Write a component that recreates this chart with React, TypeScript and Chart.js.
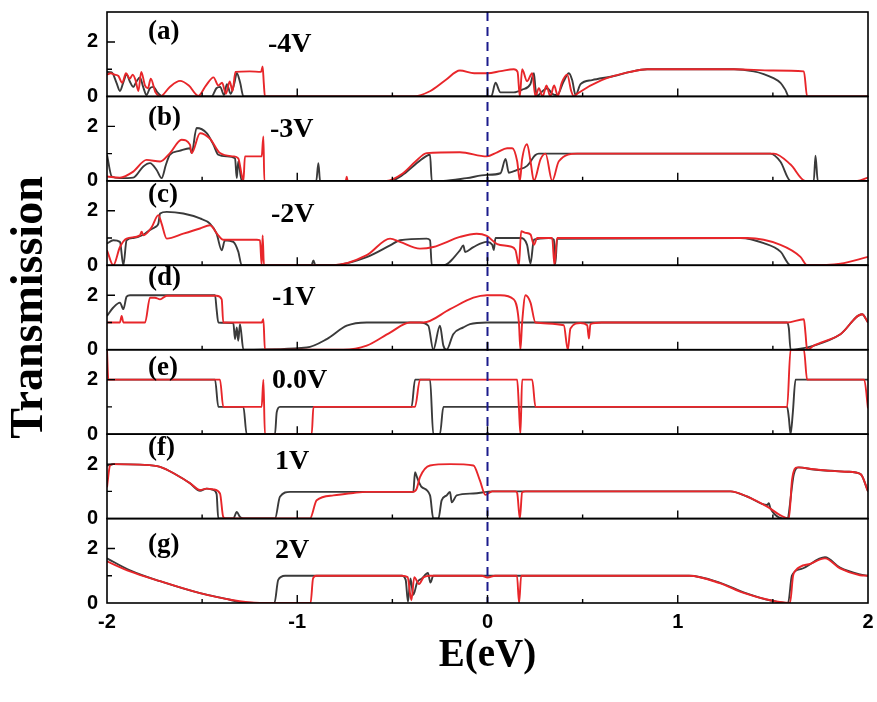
import React, { useEffect, useRef } from "react";
import { Chart, registerables } from "chart.js";

Chart.register(...registerables);

type Pt = [number, number];

// ---- axis / label data ----
const xTickValues = [-2, -1, 0, 1, 2];
const xInnerTicks = [-1.5, -1, -0.5, 0, 0.5, 1, 1.5];
const yLabelledTicks = [0, 2];
const yInnerTicks = [1, 2];
const yMax = 3.1;
const panelLetters = ["(a)", "(b)", "(c)", "(d)", "(e)", "(f)", "(g)"];
const biasLabels = ["-4V", "-3V", "-2V", "-1V", "0.0V", "1V", "2V"];
const letterX = -1.785;
const letterY = [2.36, 2.29, 2.59, 2.62, 2.44, 2.59, 2.14];
const biasX = [-1.154, -1.143, -1.138, -1.133, -1.133, -1.117, -1.117];
const biasY = [1.89, 1.89, 1.85, 1.92, 1.96, 2.07, 1.92];

// ---- series (E in eV, transmission) ----
const aBlack: Pt[] = [[-2.0,0.9],[-1.975,0.88],[-1.95,0.5],[-1.932,0.2],[-1.915,0.5],[-1.897,0.8],[-1.88,0.55],[-1.862,0.35],[-1.845,0.55],[-1.827,0.7],[-1.81,0.35],[-1.792,0.05],[-1.775,0.3],[-1.756,0.35],[-1.735,0.15],[-1.715,0.02],[-1.7,0],[-1.45,0],[-1.425,0.3],[-1.405,0.35],[-1.385,0.05],[-1.37,0.45],[-1.35,0.1],[-1.33,0.5],[-1.318,0.86],[-1.3,0.5],[-1.283,0],[0.02,0],[0.042,0.5],[0.068,0.15],[0.138,0.15],[0.182,0.25],[0.225,0.45],[0.244,0.85],[0.252,0.3],[0.261,0.02],[0.29,0.2],[0.314,0.3],[0.34,0.1],[0.366,0.05],[0.4,0.55],[0.428,0.85],[0.445,0.6],[0.463,0.05],[0.489,0.45],[0.55,0.6],[0.664,0.75],[0.75,0.9],[0.839,1.0],[1.295,1.0],[1.4,0.92],[1.452,0.82],[1.5,0.68],[1.54,0.5],[1.565,0.25],[1.584,0],[2.0,0]];
const aRed: Pt[] = [[-2.0,0.8],[-1.98,0.85],[-1.96,0.8],[-1.94,0.75],[-1.92,0.5],[-1.9,0.85],[-1.88,0.65],[-1.865,0.8],[-1.85,0.6],[-1.835,0.2],[-1.82,0.9],[-1.8,0.4],[-1.785,0.3],[-1.77,0.65],[-1.745,0.15],[-1.72,0],[-1.67,0.35],[-1.616,0.57],[-1.57,0.4],[-1.52,0.02],[-1.48,0.4],[-1.44,0.7],[-1.415,0.4],[-1.395,0.5],[-1.375,0.1],[-1.355,0.55],[-1.34,0.2],[-1.325,0.9],[-1.25,0.92],[-1.19,0.9],[-1.182,1.1],[-1.176,0.5],[-1.17,0],[-0.39,0],[-0.3,0.2],[-0.22,0.6],[-0.145,0.95],[-0.07,0.85],[0.0,0.85],[0.07,0.93],[0.138,1.0],[0.158,0.9],[0.17,0],[0.182,1.0],[0.208,0.56],[0.235,0.85],[0.252,0],[0.27,0.3],[0.29,0],[0.31,0.4],[0.33,0],[0.35,0.4],[0.37,0.02],[0.39,0.5],[0.419,0.8],[0.44,0.2],[0.454,0],[0.471,0.1],[0.6,0.6],[0.75,0.9],[0.839,1.0],[1.3,1.0],[1.5,0.95],[1.663,0.92],[1.68,0],[2.0,0]];

const bBlack: Pt[] = [[-2.0,0.96],[-1.975,0.16],[-1.932,0.1],[-1.862,0.12],[-1.809,0.53],[-1.774,0.65],[-1.739,0.4],[-1.713,0.1],[-1.69,0.6],[-1.669,0.96],[-1.62,1.1],[-1.564,1.2],[-1.555,1.02],[-1.529,1.94],[-1.476,1.75],[-1.441,1.33],[-1.415,0.96],[-1.371,0.9],[-1.327,0.83],[-1.318,0.1],[-1.31,0.71],[-1.292,0],[-0.9,0],[-0.889,0.65],[-0.88,0],[-0.512,0],[-0.45,0.2],[-0.38,0.6],[-0.32,0.92],[-0.302,0.96],[-0.293,0],[-0.232,0],[-0.11,0.1],[-0.004,0.22],[0.068,0.28],[0.095,0.8],[0.112,0.3],[0.156,0.4],[0.208,0.55],[0.252,0.95],[0.27,1.0],[1.487,1.0],[1.54,0.7],[1.593,0],[1.715,0],[1.724,0.92],[1.736,0],[2.0,0]];
const bRed: Pt[] = [[-2.0,0.16],[-1.932,0.12],[-1.862,0.34],[-1.792,0.77],[-1.721,0.71],[-1.669,1.02],[-1.608,1.51],[-1.564,1.33],[-1.555,1.02],[-1.511,1.75],[-1.459,1.55],[-1.406,1.02],[-1.336,0.9],[-1.31,0.83],[-1.292,0.22],[-1.283,0],[-1.275,0.9],[-1.187,0.9],[-1.178,1.63],[-1.173,0],[-0.745,0],[-0.74,0.15],[-0.735,0],[-0.53,0],[-0.45,0.25],[-0.38,0.7],[-0.32,1.02],[-0.145,1.05],[-0.004,0.9],[0.051,1.05],[0.103,1.2],[0.13,1.2],[0.156,0.72],[0.17,0],[0.182,0.8],[0.208,1.35],[0.226,0.72],[0.244,0],[0.279,0.8],[0.305,1.0],[0.34,0],[0.375,0.72],[0.471,1.0],[1.505,1.0],[1.593,0.6],[1.671,0],[1.943,0],[2.0,0.12]];

const cBlack: Pt[] = [[-2.0,0.8],[-1.967,0.92],[-1.932,0.86],[-1.914,0],[-1.897,0.92],[-1.862,1.0],[-1.809,1.12],[-1.774,1.3],[-1.748,1.4],[-1.73,1.53],[-1.721,1.9],[-1.686,1.96],[-1.599,1.9],[-1.511,1.72],[-1.459,1.53],[-1.424,1.16],[-1.397,0.55],[-1.38,0.92],[-1.336,0.86],[-1.31,0.5],[-1.292,0],[-0.925,0],[-0.915,0.18],[-0.905,0],[-0.81,0],[-0.635,0.3],[-0.512,0.73],[-0.46,0.92],[-0.32,0.98],[-0.302,0.92],[-0.293,0],[-0.232,0],[-0.145,0.55],[-0.127,0.73],[-0.118,0.49],[-0.074,0.67],[-0.004,0.86],[0.025,0.75],[0.033,0.56],[0.042,1.0],[0.173,1.0],[0.208,0.75],[0.226,0.06],[0.244,0.94],[0.322,1.0],[0.349,0.94],[0.357,0.06],[0.366,0.97],[1.33,1.0],[1.452,0.81],[1.54,0.5],[1.593,0],[2.0,0]];
const cRed: Pt[] = [[-2.0,0.55],[-1.967,0],[-1.932,0.67],[-1.897,0.98],[-1.827,1.1],[-1.818,1.23],[-1.809,1.1],[-1.765,1.4],[-1.73,1.84],[-1.713,1.53],[-1.686,0.98],[-1.599,1.16],[-1.511,1.35],[-1.459,1.47],[-1.415,1.1],[-1.389,0.94],[-1.213,0.94],[-1.196,0.92],[-1.187,0],[-1.182,1.1],[-1.175,0],[-0.81,0],[-0.635,0.37],[-0.512,0.98],[-0.46,0.86],[-0.355,0.61],[-0.285,0.67],[-0.145,1.04],[-0.057,1.16],[-0.004,1.08],[0.051,0.78],[0.121,0.69],[0.147,0.56],[0.165,0],[0.177,1.25],[0.2,1.19],[0.226,1.13],[0.244,0.75],[0.261,1.0],[0.34,1.0],[0.352,0],[0.366,1.0],[1.365,1.0],[1.54,0.75],[1.645,0.31],[1.68,0],[1.855,0.06],[2.0,0.31]];

const dBlack: Pt[] = [[-2.0,1.24],[-1.967,1.55],[-1.932,1.73],[-1.914,1.49],[-1.897,1.95],[-1.879,2.0],[-1.432,2.0],[-1.424,1.49],[-1.415,1.0],[-1.336,0.98],[-1.327,0.39],[-1.318,0.82],[-1.31,0.33],[-1.301,0.94],[-1.283,0],[-0.95,0.08],[-0.845,0.39],[-0.74,0.88],[-0.635,1.0],[-0.355,1.0],[-0.311,0.88],[-0.285,0],[-0.25,0.88],[-0.232,0.15],[-0.215,0],[-0.18,0.57],[-0.127,0.82],[-0.092,0.94],[-0.004,1.0],[1.575,1.0],[1.584,0.78],[1.593,0],[1.628,0.02],[1.715,0.15],[1.855,0.57],[1.969,1.3],[2.0,1.0]];
const dRed: Pt[] = [[-2.0,1.0],[-1.932,1.0],[-1.923,1.24],[-1.914,1.0],[-1.8,1.0],[-1.774,1.91],[-1.748,1.91],[-1.721,1.85],[-1.686,1.98],[-1.424,1.98],[-1.397,1.85],[-1.389,1.0],[-1.187,1.0],[-1.178,1.12],[-1.17,0],[-0.758,0],[-0.635,0.15],[-0.512,0.63],[-0.407,1.0],[-0.337,1.0],[-0.197,1.49],[-0.074,1.91],[-0.004,2.0],[0.068,2.0],[0.138,1.85],[0.165,1.0],[0.173,0],[0.182,1.0],[0.2,2.0],[0.226,1.73],[0.252,1.0],[0.401,0.9],[0.422,0],[0.436,0.78],[0.489,0.98],[0.524,0.9],[0.533,0.41],[0.541,0.94],[0.6,1.0],[1.575,1.0],[1.663,1.12],[1.671,0.63],[1.68,0],[1.715,0.15],[1.855,0.57],[1.969,1.3],[2.0,1.0]];

const eBlack: Pt[] = [[-2.0,2.0],[-1.432,2.0],[-1.415,1.0],[-1.283,1.0],[-1.266,0],[-1.117,0],[-1.108,0.8],[-1.091,1.0],[-0.399,1.0],[-0.381,2.0],[-0.302,2.0],[-0.285,0],[-0.25,0],[-0.232,1.0],[1.575,1.0],[1.584,0.6],[1.593,0],[1.605,0.8],[1.619,2.0],[2.0,2.0]];
const eRed: Pt[] = [[-2.0,3.1],[-1.993,2.0],[-1.406,2.0],[-1.389,1.0],[-1.187,1.0],[-1.178,2.0],[-1.17,0],[-0.924,0],[-0.915,1.0],[-0.381,1.0],[-0.355,2.0],[0.156,2.0],[0.165,1.0],[0.173,0],[0.182,2.0],[0.235,2.0],[0.252,1.0],[1.575,1.0],[1.593,3.1],[1.663,3.1],[1.68,2.0],[1.98,2.0],[2.0,0.95]];

const fBlack: Pt[] = [[-2.0,1.95],[-1.984,1.97],[-1.967,2.0],[-1.827,1.98],[-1.721,1.9],[-1.634,1.6],[-1.564,1.3],[-1.511,1.02],[-1.476,1.1],[-1.441,1.05],[-1.424,0.9],[-1.415,0],[-1.336,0],[-1.318,0.24],[-1.301,0.06],[-1.283,0],[-1.117,0],[-1.091,0.8],[-1.038,0.98],[-0.39,0.98],[-0.381,1.7],[-0.372,1.55],[-0.364,1.4],[-0.346,1.16],[-0.302,0.85],[-0.285,0],[-0.258,0],[-0.241,0.67],[-0.215,0.85],[-0.197,0.98],[-0.188,0.6],[-0.162,0.85],[-0.074,0.92],[0.025,1.0],[1.277,1.0],[1.365,0.81],[1.47,0.5],[1.479,0.56],[1.487,0.38],[1.575,0],[1.61,1.63],[1.636,1.88],[1.715,1.8],[1.891,1.72],[1.961,1.63],[2.0,1.0]];
const fRed: Pt[] = [[-2.0,1.15],[-1.984,1.95],[-1.967,2.0],[-1.827,1.98],[-1.721,1.9],[-1.634,1.6],[-1.564,1.3],[-1.511,1.05],[-1.476,1.1],[-1.441,1.07],[-1.406,0.92],[-1.389,0.06],[-1.371,0],[-0.933,0],[-0.898,0.67],[-0.81,0.85],[-0.705,0.94],[-0.635,0.98],[-0.39,0.98],[-0.372,1.1],[-0.355,1.52],[-0.302,1.95],[-0.197,2.0],[-0.074,1.95],[-0.04,1.4],[-0.011,0.87],[0.025,1.0],[0.147,1.0],[0.156,0.94],[0.17,0],[0.182,0.96],[0.2,1.0],[1.277,1.0],[1.365,0.81],[1.47,0.44],[1.54,0.12],[1.584,0],[1.601,1.44],[1.628,1.88],[1.715,1.81],[1.803,1.75],[1.891,1.72],[1.961,1.63],[2.0,1.0]];

const gBlack: Pt[] = [[-2.0,1.64],[-1.879,1.2],[-1.721,0.8],[-1.511,0.36],[-1.353,0.12],[-1.3,0.03],[-1.196,0],[-1.12,0],[-1.1,0.85],[-1.064,1.0],[-0.45,1.0],[-0.43,0.85],[-0.418,0.05],[-0.405,0.9],[-0.39,0.3],[-0.37,0.75],[-0.345,0.9],[-0.313,1.1],[-0.3,0.75],[-0.285,1.0],[1.06,1.0],[1.22,0.75],[1.35,0.38],[1.43,0.2],[1.485,0.1],[1.58,0],[1.6,1.0],[1.65,1.25],[1.774,1.68],[1.853,1.3],[1.958,1.05],[2.0,1.0]];
const gRed: Pt[] = [[-2.0,1.53],[-1.879,1.16],[-1.721,0.8],[-1.511,0.36],[-1.353,0.12],[-1.196,0],[-0.93,0],[-0.917,0.9],[-0.9,1.0],[-0.45,1.0],[-0.42,0.95],[-0.4,0.1],[-0.385,0.95],[-0.36,0.7],[-0.335,0.95],[-0.3,1.0],[-0.03,1.0],[0.0,0.93],[0.04,1.0],[0.155,1.0],[0.166,0],[0.177,1.0],[1.06,1.0],[1.22,0.73],[1.35,0.36],[1.485,0.1],[1.59,0],[1.606,1.0],[1.62,1.2],[1.7,1.45],[1.774,1.64],[1.853,1.27],[1.958,1.02],[2.0,1.0]];

const blackSeries = [aBlack, bBlack, cBlack, dBlack, eBlack, fBlack, gBlack];
const redSeries = [aRed, bRed, cRed, dRed, eRed, fRed, gRed];

const BLACK = "#3a3a3a";
const RED = "#e8262a";
const SERIF = '"Liberation Serif", "Times New Roman", serif';
const SANS = '"Liberation Sans", Arial, sans-serif';

const panelIds = panelLetters.map((_, i) => "y" + i);

const panelPlugin = {
  id: "panelDecor",
  afterDatasetsDraw(chart: any) {
    const ctx: CanvasRenderingContext2D = chart.ctx;
    const xs = chart.scales.x;
    const area = chart.chartArea;
    ctx.save();
    // dashed Fermi level line
    const x0 = xs.getPixelForValue(0);
    ctx.strokeStyle = "#1b1b8c";
    ctx.lineWidth = 2;
    ctx.setLineDash([9, 6]);
    ctx.beginPath();
    ctx.moveTo(x0, area.top);
    ctx.lineTo(x0, area.bottom);
    ctx.stroke();
    ctx.setLineDash([]);

    panelIds.forEach((id, i) => {
      const ys = chart.scales[id];
      ctx.strokeStyle = "#000";
      ctx.lineWidth = 1.6;
      ctx.strokeRect(area.left, ys.top, area.right - area.left, ys.bottom - ys.top);
      ctx.lineWidth = 1.4;
      ctx.beginPath();
      yInnerTicks.forEach((v) => {
        const py = ys.getPixelForValue(v);
        const len = v % 2 === 0 ? 8 : 5;
        ctx.moveTo(area.left, py);
        ctx.lineTo(area.left + len, py);
      });
      xInnerTicks.forEach((v) => {
        const px = xs.getPixelForValue(v);
        const len = Number.isInteger(v) ? 8 : 4;
        ctx.moveTo(px, ys.bottom);
        ctx.lineTo(px, ys.bottom - len);
      });
      ctx.stroke();

      ctx.fillStyle = "#000";
      ctx.textAlign = "left";
      ctx.textBaseline = "middle";
      ctx.font = `bold 27px ${SERIF}`;
      ctx.fillText(panelLetters[i], xs.getPixelForValue(letterX), ys.getPixelForValue(letterY[i]));
      ctx.font = `bold 28px ${SERIF}`;
      ctx.fillText(biasLabels[i], xs.getPixelForValue(biasX[i]), ys.getPixelForValue(biasY[i]));
    });

    ctx.save();
    ctx.translate(30, (area.top + area.bottom) / 2);
    ctx.rotate(-Math.PI / 2);
    ctx.textAlign = "center";
    ctx.textBaseline = "middle";
    ctx.font = `bold 46px ${SERIF}`;
    ctx.fillStyle = "#000";
    ctx.fillText("Transmission", 0, 0);
    ctx.restore();
    ctx.restore();
  },
};

export default function App() {
  const ref = useRef<HTMLCanvasElement | null>(null);
  useEffect(() => {
    if (!ref.current) return;
    const datasets: any[] = [];
    panelIds.forEach((id, i) => {
      datasets.push({
        label: panelLetters[i] + " black",
        data: blackSeries[i].map(([x, y]) => ({ x, y })),
        yAxisID: id,
        borderColor: BLACK,
        borderWidth: 1.9,
        pointRadius: 0,
        cubicInterpolationMode: "monotone",
        order: 1,
      });
      datasets.push({
        label: panelLetters[i] + " red",
        data: redSeries[i].map(([x, y]) => ({ x, y })),
        yAxisID: id,
        borderColor: RED,
        borderWidth: 1.9,
        pointRadius: 0,
        cubicInterpolationMode: "monotone",
        order: 0,
      });
    });
    const scales: any = {
      x: {
        type: "linear",
        min: xTickValues[0],
        max: xTickValues[xTickValues.length - 1],
        afterBuildTicks: (s: any) => {
          s.ticks = xTickValues.map((v) => ({ value: v }));
        },
        afterFit: (s: any) => {
          s.height = 99;
          s.paddingLeft = 0;
          s.paddingRight = 0;
        },
        grid: { display: false, drawTicks: false },
        border: { display: false },
        ticks: {
          autoSkip: false,
          padding: 7,
          color: "#000",
          font: { family: SANS, size: 20, weight: "bold" },
        },
        title: {
          display: true,
          text: "E(eV)",
          color: "#000",
          font: { family: SERIF, size: 39, weight: "bold" },
          padding: { top: 0, bottom: 23 },
        },
      },
    };
    panelIds.forEach((id, i) => {
      scales[id] = {
        type: "linear",
        position: "left",
        stack: "panels",
        stackWeight: 1,
        weight: panelIds.length - i,
        min: 0,
        max: yMax,
        afterBuildTicks: (s: any) => {
          s.ticks = yLabelledTicks.map((v) => ({ value: v }));
        },
        afterFit: (s: any) => {
          s.width = 107;
          s.paddingTop = 0;
          s.paddingBottom = 0;
        },
        grid: { display: false, drawTicks: false },
        border: { display: false },
        ticks: {
          autoSkip: false,
          padding: 9,
          color: "#000",
          font: { family: SANS, size: 20, weight: "bold" },
        },
      };
    });
    const chart = new Chart(ref.current, {
      type: "line",
      data: { datasets },
      options: {
        animation: false,
        responsive: false,
        devicePixelRatio: 1,
        layout: { padding: { left: 0, right: 9, top: 12, bottom: 0 } },
        plugins: { legend: { display: false }, tooltip: { enabled: false } },
        scales,
      },
      plugins: [panelPlugin],
    } as any);
    return () => chart.destroy();
  }, []);
  return (
    <div style={{ position: "absolute", left: 0, top: 0, width: 877, height: 702, background: "#fff" }}>
      <canvas ref={ref} width={877} height={702} />
    </div>
  );
}
